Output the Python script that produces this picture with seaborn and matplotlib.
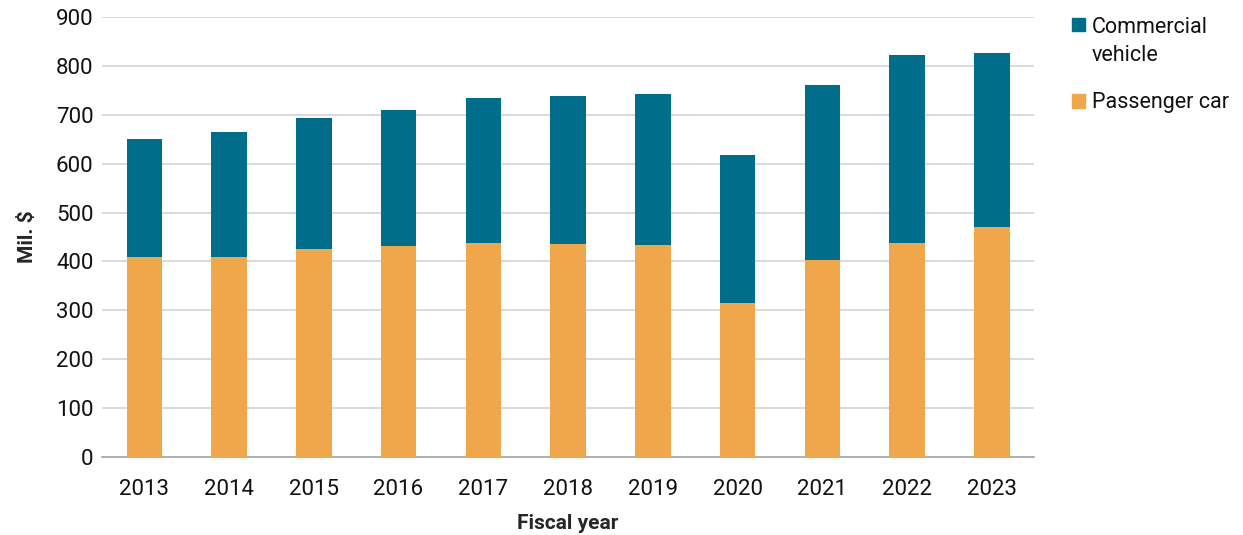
import numpy as np
import pandas as pd
import matplotlib
matplotlib.use("Agg")
from matplotlib import pyplot as plt
from matplotlib.patches import Patch, Rectangle
from matplotlib.legend_handler import HandlerPatch
import seaborn as sns

years = ['2013', '2014', '2015', '2016', '2017', '2018', '2019', '2020', '2021', '2022', '2023']
passenger = [409, 410, 425, 431, 437, 435, 433, 315, 402, 438, 470]
commercial = [242, 255, 268, 279, 297, 303, 309, 302, 360, 384, 357]

TEAL = '#006e8a'
ORANGE = '#f0a64a'

df = pd.DataFrame({'year': years, 'passenger': passenger, 'commercial': commercial})
df['total'] = df['passenger'] + df['commercial']

sns.set_style('white')
plt.rcParams['font.family'] = ['Roboto', 'DejaVu Sans']

fig, ax = plt.subplots(figsize=(12.43, 5.35), dpi=100)
fig.subplots_adjust(left=0.082, right=0.832, top=0.968, bottom=0.146)

# stacked: draw totals first, passenger cars on top
sns.barplot(x='year', y='total', data=df, color=TEAL, width=0.42, saturation=1,
            linewidth=0, ax=ax, zorder=2)
sns.barplot(x='year', y='passenger', data=df, color=ORANGE, width=0.42, saturation=1,
            linewidth=0, ax=ax, zorder=3)

ax.set_ylim(0, 900)
ax.set_xlim(-0.5, len(years) - 0.5)
ax.set_yticks(range(0, 901, 100))
ax.yaxis.grid(True, color='#d4d4d4', linewidth=1.2, zorder=0)
ax.set_axisbelow(True)

for s in ['top', 'right', 'left']:
    ax.spines[s].set_visible(False)
ax.spines['bottom'].set_color('#a6a6a6')
ax.spines['bottom'].set_linewidth(1.2)

ax.tick_params(axis='x', which='major', length=0, labelsize=16, pad=16, colors='#111111')
ax.set_xticks(np.arange(-0.5, len(years), 1), minor=True)
ax.tick_params(axis='x', which='minor', length=6, width=1.2, color='#a6a6a6', direction='out')
ax.tick_params(axis='y', length=0, labelsize=16, pad=6, colors='#111111')

ax.set_xlabel('Fiscal year', fontsize=15, fontweight='bold', labelpad=10)
ax.set_ylabel('Mil. $', fontsize=15, fontweight='bold', labelpad=14)


# square for the two-line label sits next to the first line
def top_square(legend, orig_handle, xdescent, ydescent, width, height, fontsize):
    return Rectangle((-xdescent, -ydescent + 0.8 * fontsize), width, height)


handles = [Patch(color=TEAL, label='Commercial\nvehicle'), Patch(color=ORANGE, label='Passenger car')]
leg = ax.legend(handles=handles, loc='upper left', bbox_to_anchor=(1.041, 1.0), frameon=False,
                borderpad=0, borderaxespad=0, fontsize=15.5, handlelength=0.6, handleheight=0.6,
                handletextpad=0.3, labelspacing=1.25,
                handler_map={handles[0]: HandlerPatch(patch_func=top_square)})
for t in leg.get_texts():
    t.set_color('#111111')
    t.set_linespacing(1.4)

plt.savefig('out.png', dpi=100)
